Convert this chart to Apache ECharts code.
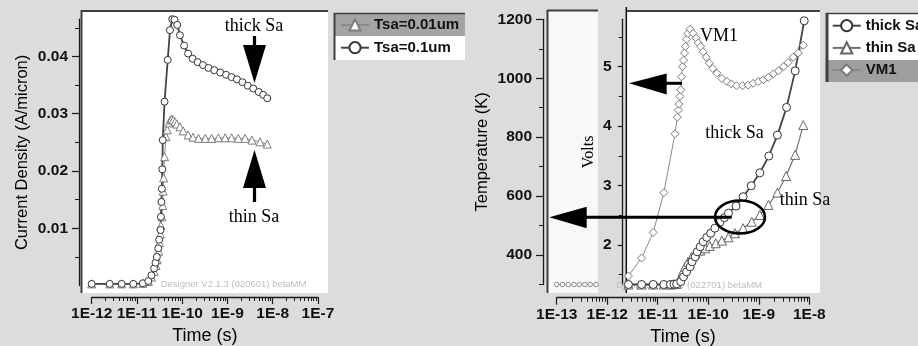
<!DOCTYPE html>
<html>
<head>
<meta charset="utf-8">
<script src="https://cdn.jsdelivr.net/npm/echarts@6/dist/echarts.min.js"></script>
<style>
  html, body { margin: 0; padding: 0; background: #dcdcdc; }
  #chart { width: 918px; height: 346px; }
</style>
</head>
<body>
<div id="chart"></div>
<script>
// ---- left panel: current density vs time ----
const timeThinL = [1.0e-12, 2.5e-12, 4.6e-12, 8.3e-12, 1.35e-11, 1.78e-11, 2.09e-11, 2.4e-11, 2.63e-11, 2.82e-11,
  3.02e-11, 3.16e-11, 3.31e-11, 3.39e-11, 3.55e-11, 3.72e-11, 3.8e-11, 3.89e-11, 4.07e-11, 4.37e-11,
  4.68e-11, 5.13e-11, 5.5e-11, 5.89e-11, 6.31e-11, 6.92e-11, 7.59e-11, 8.91e-11, 1.05e-10, 1.35e-10,
  1.74e-10, 2.29e-10, 3.24e-10, 4.47e-10, 6.31e-10, 8.91e-10, 1.23e-9, 1.74e-9, 2.45e-9, 3.47e-9, 5.25e-9, 7.59e-9]
const curThinL = [0.0003, 0.0003, 0.0003, 0.0003, 0.0004, 0.0007, 0.0015, 0.0025, 0.0035, 0.0045,
  0.006, 0.0075, 0.009, 0.0105, 0.012, 0.014, 0.0165, 0.0188, 0.0225, 0.026,
  0.0272, 0.0284, 0.0289, 0.0291, 0.0289, 0.0286, 0.0282, 0.0277, 0.027, 0.0263,
  0.0259, 0.0257, 0.0257, 0.0257, 0.0258, 0.0258, 0.0258, 0.0257, 0.0257, 0.0254, 0.0251, 0.0247]

const timeThickL = [1.0e-12, 2.5e-12, 4.6e-12, 8.3e-12, 1.35e-11, 1.78e-11, 2.09e-11, 2.4e-11, 2.57e-11, 2.75e-11,
  2.95e-11, 3.09e-11, 3.31e-11, 3.39e-11, 3.47e-11, 3.55e-11, 3.63e-11, 3.72e-11, 4.07e-11, 4.79e-11,
  5.37e-11, 6.03e-11, 6.76e-11, 7.76e-11, 8.91e-11, 1.1e-10, 1.35e-10, 1.7e-10, 2.19e-10, 2.88e-10,
  3.8e-10, 5.13e-10, 6.92e-10, 9.33e-10, 1.23e-9, 1.62e-9, 2.14e-9, 2.82e-9, 3.72e-9, 4.9e-9, 6.17e-9, 7.59e-9]
const curThickL = [0.0003, 0.0003, 0.0003, 0.0003, 0.0004, 0.0008, 0.0018, 0.003, 0.004, 0.005,
  0.0065, 0.008, 0.0097, 0.012, 0.0146, 0.0169, 0.0203, 0.0254, 0.0321, 0.0394,
  0.0446, 0.0465, 0.0464, 0.0455, 0.0437, 0.0419, 0.0405, 0.0396, 0.039, 0.0385,
  0.038, 0.0376, 0.0372, 0.0368, 0.0364, 0.036, 0.0355, 0.0349, 0.0344, 0.0338, 0.0333, 0.0327]

// ---- right panel: temperature and VM1 vs time ----
const timeThickR = [2.63e-12, 4.79e-12, 8.13e-12, 1.32e-11, 1.78e-11, 2.09e-11, 2.37e-11, 2.85e-11, 3.24e-11, 3.72e-11,
  4.37e-11, 4.79e-11, 5.5e-11, 6.03e-11, 6.92e-11, 7.94e-11, 9.33e-11, 1.12e-10, 1.35e-10, 1.7e-10,
  2.09e-10, 2.51e-10, 3.55e-10, 4.9e-10, 7.08e-10, 1.05e-9, 1.58e-9, 2.34e-9, 3.55e-9, 5.25e-9, 7.94e-9]
const tempThickR = [300, 300, 300, 300, 300, 301, 302, 310, 326, 343,
  360, 377, 394, 411, 428, 445, 460, 474, 491, 511,
  527, 542, 566, 598, 635, 679, 736, 807, 901, 1025, 1195]

const timeThinR = [2.63e-12, 4.79e-12, 8.13e-12, 1.32e-11, 1.78e-11, 2.09e-11, 2.37e-11, 2.75e-11, 3.09e-11, 3.47e-11,
  3.98e-11, 4.68e-11, 5.62e-11, 6.92e-11, 8.71e-11, 1.07e-10, 1.41e-10, 1.86e-10, 2.51e-10, 3.39e-10,
  4.9e-10, 7.24e-10, 1.05e-9, 1.55e-9, 2.34e-9, 3.47e-9, 5.25e-9, 7.59e-9]
const tempThinR = [300, 300, 300, 300, 300, 301, 302, 321, 343, 360,
  377, 394, 406, 415, 423, 431, 440, 449, 460, 474,
  491, 513, 536, 570, 612, 668, 740, 841]

const timeVM1 = [2.63e-12, 4.79e-12, 8.13e-12, 1.32e-11, 2.19e-11, 2.45e-11, 2.57e-11, 2.63e-11, 2.75e-11, 2.85e-11,
  2.95e-11, 3.09e-11, 3.24e-11, 3.39e-11, 3.55e-11, 3.72e-11, 3.98e-11, 4.37e-11, 5.01e-11, 5.75e-11,
  6.31e-11, 7.08e-11, 7.94e-11, 9.12e-11, 1.05e-10, 1.23e-10, 1.48e-10, 1.86e-10, 2.34e-10, 2.88e-10,
  3.63e-10, 4.79e-10, 6.17e-10, 7.76e-10, 9.77e-10, 1.23e-9, 1.55e-9, 1.95e-9, 2.45e-9, 3.09e-9,
  3.8e-9, 4.79e-9, 6.03e-9, 7.59e-9]
const voltVM1 = [1.48, 1.78, 2.21, 2.88, 3.87, 4.15, 4.27, 4.37, 4.5, 4.61,
  4.83, 5.0, 5.11, 5.23, 5.34, 5.46, 5.56, 5.63, 5.56, 5.48,
  5.4, 5.34, 5.25, 5.16, 5.06, 4.97, 4.89, 4.8, 4.75, 4.71,
  4.68, 4.68, 4.69, 4.72, 4.75, 4.78, 4.82, 4.88, 4.93, 5.0,
  5.07, 5.16, 5.23, 5.36]

// points of the plot behind, visible in the narrow strip
const timeBack = [1.0e-13, 1.3e-13, 1.7e-13, 2.2e-13, 2.8e-13, 3.6e-13, 4.6e-13, 6.0e-13]
const tempBack = [300, 300, 300, 300, 300, 300, 300, 300]

// ---- ticks ----
const decadesL = [-12, -11, -10, -9, -8, -7]
const decadeLabelsL = ['1E-12', '1E-11', '1E-10', '1E-9', '1E-8', '1E-7']
const decadesR = [-13, -12, -11, -10, -9, -8]
const decadeLabelsR = ['1E-13', '1E-12', '1E-11', '1E-10', '1E-9', '1E-8']
const curTicks = [0.01, 0.02, 0.03, 0.04]
const curLabels = ['0.01', '0.02', '0.03', '0.04']
const curMinor = [0.005, 0.015, 0.025, 0.035, 0.045]
const tempTicks = [400, 600, 800, 1000, 1200]
const tempMinor = [300, 500, 700, 900, 1100]
const voltTicks = [2, 3, 4, 5]
const voltMinor = [1.5, 2.5, 3.5, 4.5, 5.5]

const pairs = (ts, vs) => ts.map((t, i) => [Math.log10(t), vs[i]])

// log minor ticks (2..9 in every decade)
function minorLog(from, to) {
  const out = []
  for (let d = from; d < to; d++) {
    for (let k = 2; k <= 9; k++) out.push(d + Math.log10(k))
  }
  return out
}

const SANS = 'Liberation Sans, Arial, sans-serif'
const SERIF = 'Liberation Serif, Times New Roman, serif'
const AX = '#1a1a1a'

function xAxes(grid, decades, labels, offset) {
  const lo = decades[0], hi = decades[decades.length - 1]
  return [{
    type: 'value', gridIndex: grid, min: lo, max: hi, offset: offset, position: 'bottom',
    axisLine: {onZero: false, lineStyle: {color: AX, width: 1.3}},
    axisTick: {customValues: decades, length: 7, lineStyle: {color: AX, width: 1.2}},
    axisLabel: {
      customValues: decades, margin: 9, fontSize: 15.5, fontWeight: 'bold', color: '#111', fontFamily: SANS,
      formatter: v => labels[decades.indexOf(Math.round(v))],
    },
    splitLine: {show: false},
    name: 'Time (s)', nameLocation: 'middle', nameGap: 28,
    nameTextStyle: {fontSize: 18, color: '#000', fontFamily: SANS},
  }, {
    type: 'value', gridIndex: grid, min: lo, max: hi, offset: offset, position: 'bottom',
    axisLine: {show: false, onZero: false},
    axisTick: {customValues: minorLog(lo, hi), length: 4, lineStyle: {color: AX, width: 1}},
    axisLabel: {show: false},
    splitLine: {show: false},
  }]
}

function yAxisPair(grid, min, max, offset, ticks, labels, minor, len, extra) {
  return [Object.assign({
    type: 'value', gridIndex: grid, min: min, max: max, offset: offset, position: 'left',
    axisLine: {show: true, onZero: false, lineStyle: {color: AX, width: 1.3}},
    axisTick: {show: true, customValues: ticks, length: len, lineStyle: {color: AX, width: 1.2}},
    axisLabel: {
      customValues: ticks, margin: 11, fontSize: 15.5, fontWeight: 'bold', color: '#111', fontFamily: SANS,
      formatter: v => labels[ticks.indexOf(ticks.find(t => Math.abs(t - v) < 1e-9))],
    },
    splitLine: {show: false},
  }, extra), {
    type: 'value', gridIndex: grid, min: min, max: max, offset: offset, position: 'left',
    axisLine: {show: false, onZero: false},
    axisTick: {show: true, customValues: minor, length: 4, lineStyle: {color: AX, width: 1}},
    axisLabel: {show: false},
    splitLine: {show: false},
  }]
}

const chart = echarts.init(document.getElementById('chart'), null, {renderer: 'canvas'})

const line = (name, xi, yi, data, symbol, size, lineColor, lineWidth, border) => ({
  name, type: 'line', xAxisIndex: xi, yAxisIndex: yi, data,
  symbol, symbolSize: size, showAllSymbol: true, clip: false,
  lineStyle: {color: lineColor, width: lineWidth},
  itemStyle: {color: '#fff', borderColor: border, borderWidth: 1},
  emphasis: {disabled: true}, z: 3,
})

const txt = (x, y, text, opt) => ({
  type: 'text', x, y, z: 20,
  style: Object.assign({text, fill: '#000', font: '18px ' + SERIF, align: 'center', verticalAlign: 'middle'}, opt || {}),
})
const rect = (x, y, w, h, fill, z) => ({type: 'rect', shape: {x, y, width: w, height: h}, style: {fill}, z: z || 0, silent: true})
const seg = (x1, y1, x2, y2, w, c, z) => ({type: 'line', shape: {x1, y1, x2, y2}, style: {stroke: c || '#404040', lineWidth: w}, z: z || 1, silent: true})
const poly = pts => ({type: 'polygon', shape: {points: pts}, style: {fill: '#000'}, z: 20, silent: true})

const option = {
  animation: false,
  backgroundColor: '#dcdcdc',
  textStyle: {fontFamily: SANS},
  grid: [
    {left: 91.7, top: 19.2, width: 226.25, height: 266.4, containLabel: false, outerBoundsMode: 'none'},
    {left: 556.7, top: 19.3, width: 252.6, height: 265.2, containLabel: false, outerBoundsMode: 'none'},
  ],
  xAxis: [
    ...xAxes(0, decadesL, decadeLabelsL, 11.4),
    ...xAxes(1, decadesR, decadeLabelsR, 13.2),
  ],
  yAxis: [
    ...yAxisPair(0, 0, 0.0465, 12.7, curTicks, curLabels, curMinor, 7, {
      name: 'Current Density (A/micron)', nameLocation: 'middle', nameGap: 48,
      nameTextStyle: {fontSize: 16.5, color: '#000', fontFamily: SANS},
    }),
    ...yAxisPair(1, 300, 1200, 13.7, tempTicks, tempTicks.map(String), tempMinor, 7, {
      name: 'Temperature (K)', nameLocation: 'middle', nameGap: 52,
      nameTextStyle: {fontSize: 16.5, color: '#000', fontFamily: SANS},
    }),
    ...yAxisPair(1, 1.335, 5.797, -66, voltTicks, voltTicks.map(String), voltMinor, 5, {
      name: 'Volts', nameLocation: 'middle', nameGap: 26,
      nameTextStyle: {fontSize: 16, color: '#000', fontFamily: SERIF},
    }),
  ],
  legend: [{
    data: ['Tsa=0.01um', 'Tsa=0.1um'], orient: 'vertical', left: 340, top: 17, padding: 0,
    itemWidth: 28, itemHeight: 14, itemGap: 6.7, selectedMode: false,
    textStyle: {fontSize: 15, fontWeight: 'bold', color: '#111', lineHeight: 16, fontFamily: SANS},
  }, {
    data: ['thick Sa', 'thin Sa', 'VM1'], orient: 'vertical', left: 831.7, top: 17.7, padding: 0,
    itemWidth: 28, itemHeight: 14, itemGap: 6.2, selectedMode: false,
    textStyle: {fontSize: 15, fontWeight: 'bold', color: '#111', lineHeight: 16, fontFamily: SANS},
  }],
  series: [
    line('Tsa=0.01um', 0, 0, pairs(timeThinL, curThinL), 'triangle', 8, '#8c8c8c', 1, '#7c7c7c'),
    line('Tsa=0.1um', 0, 0, pairs(timeThickL, curThickL), 'circle', 7, '#444', 1.8, '#333'),
    line('back', 2, 2, pairs(timeBack, tempBack), 'circle', 4.5, '#999', 1, '#888'),
    line('VM1', 2, 4, pairs(timeVM1, voltVM1), 'diamond', 8, '#8a8a8a', 1, '#7a7a7a'),
    line('thin Sa', 2, 2, pairs(timeThinR, tempThinR), 'triangle', 9, '#707070', 1.2, '#666'),
    line('thick Sa', 2, 2, pairs(timeThickR, tempThickR), 'circle', 8, '#444', 1.8, '#333'),
  ],
  graphic: [
    // plot frames
    rect(81, 10, 247, 283, '#fff'),
    seg(81, 11, 328, 11, 2),
    seg(81.5, 10, 81.5, 293, 2),
    rect(547, 10, 51, 283, '#f8f8f8'),
    seg(547, 10.5, 598, 10.5, 2),
    seg(547.5, 10, 547.5, 293, 2),
    rect(626, 10.5, 194, 282.5, '#fff'),
    seg(626, 11, 820, 11, 2),
    seg(626.3, 7, 626.3, 293, 1.5, '#111'),
    // legend boxes
    rect(334, 13, 131, 47, '#fff'),
    rect(334, 13, 131, 23, '#a4a4a4'),
    seg(334, 13.5, 465, 13.5, 1.5),
    seg(334.5, 13, 334.5, 60, 2),
    rect(825.7, 13, 93, 69, '#fff'),
    rect(825.7, 60, 93, 22, '#9e9e9e'),
    seg(825.7, 13.5, 918, 13.5, 1.5),
    seg(827, 13, 827, 82, 3),
    // watermarks
    {type: 'text', x: 160.7, y: 284.3, z: 1, silent: true,
      style: {text: 'Designer V2.1.3 (020601) betaMM', fill: '#bdbdbd', font: '9.5px ' + SANS, verticalAlign: 'middle'}},
    {type: 'text', x: 762, y: 285, z: 1, silent: true,
      style: {text: 'Designer V2.1.3 (022701) betaMM', fill: '#bdbdbd', font: '9.5px ' + SANS, align: 'right', verticalAlign: 'middle'}},
    // annotations, left panel
    txt(254, 26, 'thick Sa'),
    rect(252.9, 36, 3.2, 12, '#000', 20),
    poly([[243, 45], [266, 45], [254.5, 83]]),
    txt(254, 217, 'thin Sa'),
    rect(252.9, 186, 3.2, 16, '#000', 20),
    poly([[243, 188], [266, 188], [254.5, 150]]),
    // annotations, right panel
    txt(700, 36, 'VM1', {align: 'left'}),
    txt(734.5, 133, 'thick Sa'),
    txt(805, 200, 'thin Sa'),
    poly([[629, 83.3], [666.7, 73.5], [666.7, 94.5]]),
    rect(665, 81.8, 17, 3, '#000', 20),
    poly([[549.3, 217.3], [586.7, 206.7], [586.7, 228.3]]),
    rect(585, 215.8, 146.7, 3, '#000', 20),
    {type: 'ellipse', shape: {cx: 740, cy: 217, rx: 25, ry: 16.5}, z: 20, silent: true,
      style: {fill: 'none', stroke: '#000', lineWidth: 2.5}},
  ],
}

chart.setOption(option)
</script>
</body>
</html>
